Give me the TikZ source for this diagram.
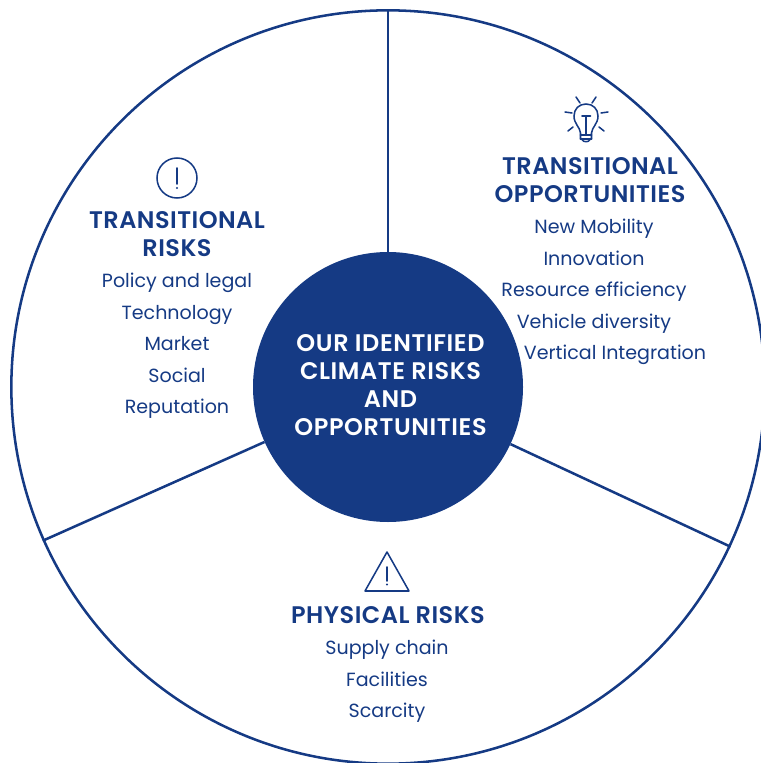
\documentclass[tikz,border=0pt]{standalone}
\usepackage{fontspec}
\setmainfont{Poppins}[BoldFont={Poppins SemiBold}]
\definecolor{navy}{HTML}{153A84}
\tikzset{
  x=0.75pt,y=-0.75pt,
  ln/.style={draw=navy,line width=1.9pt},
  ic/.style={draw=navy,line width=1.15pt,line cap=round,line join=round},
  head/.style={text=navy,font=\fontsize{18}{21}\selectfont\bfseries\addfontfeatures{LetterSpace=2},align=center,inner sep=0pt},
  item/.style={text=navy,font=\fontsize{14.3}{18}\selectfont,inner sep=0pt,anchor=base},
  hub/.style={circle,fill=navy,minimum size=202.5pt,inner sep=0pt},
  hubt/.style={text=white,font=\fontsize{18}{21}\selectfont\bfseries\addfontfeatures{LetterSpace=2.5},align=center,inner sep=0pt},
  ring/.style={circle,ln,minimum size=565pt,inner sep=0pt}
}
\begin{document}
\begin{tikzpicture}
\useasboundingbox (0,0) rectangle (760,763);
\node[ring] (outer) at (388,387) {};
\node[hub] (hub) at (388,387) {};
\draw[ln] (hub.90) -- (outer.90);
\draw[ln] (hub.204.2) -- (outer.204.2);
\draw[ln] (hub.-25.3) -- (outer.-25.3);
\node[hubt] (hubtext) at (390.5,385) {OUR IDENTIFIED\\CLIMATE RISKS\\AND\\OPPORTUNITIES};
% left
\node[head] (tr) at (177,234.5) {TRANSITIONAL\\RISKS};
\node[item] (a1) at (177,287) {Policy and legal};
\node[item] (a2) at (177,319) {Technology};
\node[item] (a3) at (177,350) {Market};
\node[item] (a4) at (177,382) {Social};
\node[item] (a5) at (177,413) {Reputation};
% right
\node[head] (to) at (590,180.5) {TRANSITIONAL\\OPPORTUNITIES};
\node[item] (b1) at (594,233) {New Mobility};
\node[item] (b2) at (594,265) {Innovation};
\node[item] (b3) at (594,296) {Resource efficiency};
\node[item] (b4) at (594,328) {Vehicle diversity};
\node[item] (b5) at (615,359) {Vertical Integration};
% bottom
\node[head] (pr) at (388,615.5) {PHYSICAL RISKS};
\node[item] (c1) at (387,654) {Supply chain};
\node[item] (c2) at (387,686) {Facilities};
\node[item] (c3) at (387,717) {Scarcity};
% circle icon
\draw[ic] (177,178) circle (20);
\draw[ic] (177,168) -- (177,184);
\fill[navy] (177,188) circle (1.2);
% triangle icon
\draw[ic] (387,552) -- (409,591) -- (365,591) -- cycle;
\draw[ic] (387,567) -- (387,581);
\fill[navy] (387,584.5) circle (1.2);
% bulb icon
\draw[ic] (580.5,139) -- (580.5,133) .. controls (580,127) and (574,124) .. (574,116)
  .. controls (574,109) and (579,104) .. (586,104)
  .. controls (593,104) and (598,109) .. (598,116)
  .. controls (598,124) and (592,127) .. (591.5,133) -- (591.5,139);
\draw[ic] (580.5,135) -- (591.5,135) (580.5,139) -- (591.5,139);
\draw[ic] (582,139.5) .. controls (583,142.5) and (589,142.5) .. (590,139.5);
\draw[ic] (586,116) -- (586,135) (582,116) -- (590.5,116);
\draw[ic] (576,97) -- (580,103) (596,97) -- (592,103);
\draw[ic] (565,112) -- (572,113) (608,112) -- (601,113);
\draw[ic] (568,131) -- (573,127) (604,131) -- (599,127);
\end{tikzpicture}
\end{document}
